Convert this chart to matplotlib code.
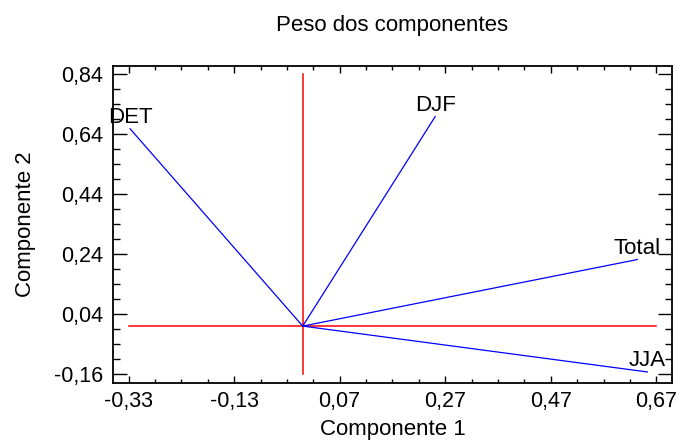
import matplotlib
matplotlib.use("Agg")
import matplotlib.pyplot as plt
from matplotlib.ticker import FixedLocator, AutoMinorLocator

# component weights
variables = ["DET", "DJF", "Total", "JJA"]
comp1 = [-0.327, 0.251, 0.634, 0.653]
comp2 = [0.658, 0.699, 0.222, -0.153]

xticks = [-0.33, -0.13, 0.07, 0.27, 0.47, 0.67]
xtick_labels = ["-0,33", "-0,13", "0,07", "0,27", "0,47", "0,67"]
yticks = [-0.16, 0.04, 0.24, 0.44, 0.64, 0.84]
ytick_labels = ["-0,16", "0,04", "0,24", "0,44", "0,64", "0,84"]

plt.rcParams["font.family"] = ["Liberation Sans", "DejaVu Sans"]

fig = plt.figure(figsize=(6.79, 4.43), dpi=100)
ax = fig.add_axes([0.166, 0.136, 0.824, 0.716])

# red reference axes through the origin, spanning the tick range
ax.plot([xticks[0], xticks[-1]], [0, 0], color="#ff0000", lw=1.1)
ax.plot([0, 0], [yticks[0], yticks[-1]], color="#ff0000", lw=1.1)

# blue loading vectors with their names
for name, x, y in zip(variables, comp1, comp2):
    ax.plot([0, x], [0, y], color="#0000ff", lw=0.9)
    ax.annotate(name, (x, y), xytext=(0, 4), textcoords="offset points",
                ha="center", va="baseline", fontsize=16, color="black")

ax.set_xlim(-0.36, 0.70)
ax.set_ylim(-0.189, 0.869)

ax.xaxis.set_major_locator(FixedLocator(xticks))
ax.set_xticklabels(xtick_labels)
ax.yaxis.set_major_locator(FixedLocator(yticks))
ax.set_yticklabels(ytick_labels)
ax.xaxis.set_minor_locator(AutoMinorLocator(4))
ax.yaxis.set_minor_locator(AutoMinorLocator(4))

ax.tick_params(axis="both", which="both", direction="in", top=True, right=True,
               width=1.0, labelsize=15.5)
ax.tick_params(axis="x", which="major", length=5, pad=6)
ax.tick_params(axis="x", which="minor", length=3)
ax.tick_params(axis="y", which="major", length=10, pad=7)
ax.tick_params(axis="y", which="minor", length=5)

for s in ax.spines.values():
    s.set_linewidth(1.3)

ax.set_title("Peso dos componentes", fontsize=16, pad=25)
ax.set_xlabel("Componente 1", fontsize=16)
ax.xaxis.set_label_coords(0.5, -0.114)
ax.set_ylabel("Componente 2", fontsize=16)
ax.yaxis.set_label_coords(-0.137, 0.5)

fig.savefig("out.png", dpi=100)
